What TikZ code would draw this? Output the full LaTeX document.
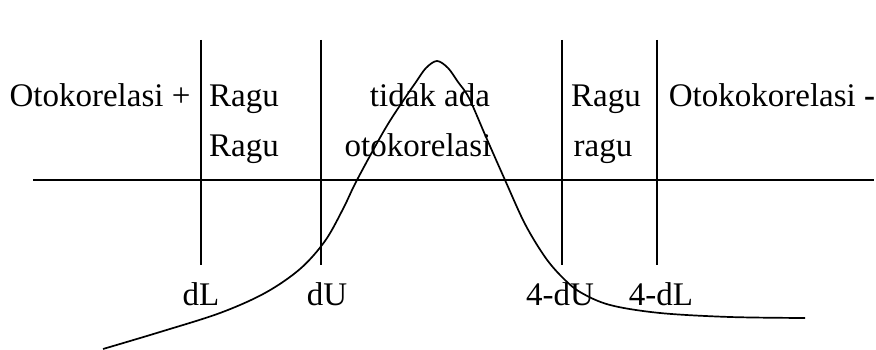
\documentclass[tikz,border=0pt]{standalone}
\usepackage{fontspec}
\setmainfont{Liberation Serif}
\usetikzlibrary{positioning}

\begin{document}
\begin{tikzpicture}[
      x=1pt, y=1pt,
      node distance = 17pt,
      txt/.style = {inner sep=0pt, anchor=base, font=\fontsize{33}{38}\selectfont},
      lbl/.style = {txt, anchor=north},
      grs/.style = {line width=1.5pt},
      kurva/.style = {line width=1.7pt, line join=round}
    ]
    \useasboundingbox (0,0) rectangle (876,349);
    % garis batas daerah
    \coordinate (dLa)  at (201,309); \coordinate (dLb)  at (201,84);
    \coordinate (dUa)  at (321,309); \coordinate (dUb)  at (321,84);
    \coordinate (dUra) at (562,309); \coordinate (dUrb) at (562,84);
    \coordinate (dLra) at (657,309); \coordinate (dLrb) at (657,84);
    \coordinate (sumbuL) at (33,169); \coordinate (sumbuR) at (874,169);
    \draw[grs] (dLa)  -- (dLb);
    \draw[grs] (dUa)  -- (dUb);
    \draw[grs] (dUra) -- (dUrb);
    \draw[grs] (dLra) -- (dLrb);
    \draw[grs] (sumbuL) -- (sumbuR);
    % teks daerah
    \node[txt] (plus)  at (100,243) {Otokorelasi +};
    \node[txt] (ragu1) at (244,243) {Ragu};
    \node[txt] (ragu2) at (244,193) {Ragu};
    \node[txt] (tidak) at (430,243) {tidak ada};
    \node[txt] (otok)  at (418,193) {otokorelasi};
    \node[txt] (ragu3) at (606,243) {Ragu};
    \node[txt] (ragu4) at (603,193) {ragu};
    \node[txt] (minus) at (772,243) {Otokokorelasi \textbf{-}};
    % label batas
    \node[lbl, below=of dLb] (dL) {dL};
    \node[lbl, below=of dUb, xshift=6pt] (dU) {dU};
    \node[lbl, below=of dUrb, xshift=-2pt] (dUr) {4-dU};
    \node[lbl, below=of dLrb, xshift=4pt] (dLr) {4-dL};
    % kurva distribusi
    \draw[kurva] plot[smooth, tension=0.55] coordinates {
      (103,0) (160,17) (220,36) (265,56) (300,80) (325,108) (343,140)
      (357,169) (385,220) (405,251) (416,267) (426,281) (437,288)
      (448,281) (458,267) (469,251) (486,212) (505,169) (525,125)
      (545,92) (562,72) (580,57) (610,44) (660,36) (730,32) (805,31)};
\end{tikzpicture}
\end{document}
